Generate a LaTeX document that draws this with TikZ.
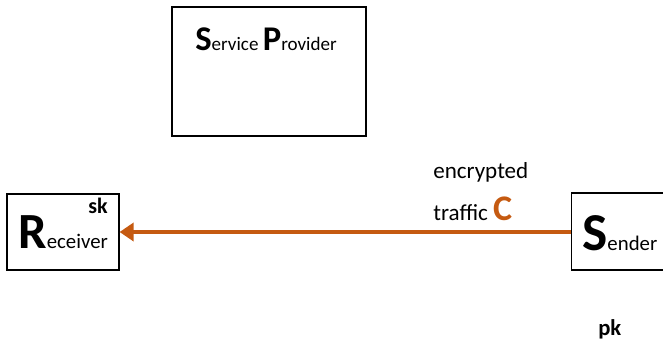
\documentclass[tikz,border=0pt]{standalone}
\usepackage{fontspec}
\setmainfont{Carlito}
\usetikzlibrary{arrows.meta}
\definecolor{rust}{HTML}{C55A11}
\begin{document}
\begin{tikzpicture}[x=0.75pt,y=-0.75pt,
  box/.style={draw=black,line width=0.9pt,rectangle,inner sep=0pt},
  lbl/.style={anchor=base west,inner sep=0pt,font=\fontsize{17.3}{19}\selectfont},
  flow/.style={draw=rust,line width=3pt,-{Triangle[length=10.5pt,width=13.5pt]}}]
\useasboundingbox (0,0) rectangle (663,340);
\clip (0,0) rectangle (663,340);
\node[box,minimum width=194*0.75pt,minimum height=129*0.75pt] (sp) at (269,71.5) {};
\node[box,minimum width=112*0.75pt,minimum height=76*0.75pt] (rx) at (63,232) {};
\node[box,minimum width=110*0.75pt,minimum height=77*0.75pt,anchor=west] (tx) at (571,231.5) {};
\node[lbl,font=\fontsize{14.3}{16}\selectfont] (sptext) at (195,50) {{\fontsize{26}{28}\selectfont\bfseries S}ervice {\fontsize{26}{28}\selectfont\bfseries P}rovider};
\node[lbl,font=\fontsize{15.6}{17}\selectfont] (rxtext) at (18,248) {{\fontsize{38}{40}\selectfont\bfseries R}eceiver};
\node[lbl,font=\fontsize{15.6}{17}\selectfont] (txtext) at (582,250) {{\fontsize{40}{42}\selectfont\bfseries S}ender};
\node[lbl,font=\fontsize{16.5}{18}\selectfont\bfseries] (sk) at (88,213) {sk};
\node[lbl,font=\fontsize{17}{18}\selectfont\bfseries] (pk) at (598,335) {pk};
\node[lbl] (enc) at (433,178) {encrypted};
\node[lbl] (traf) at (433,220) {traffic {\fontsize{27}{28}\selectfont\bfseries\color{rust}C}};
\draw[flow] (tx.west |- 0,232) -- (rx.east |- 0,232);
\end{tikzpicture}
\end{document}
